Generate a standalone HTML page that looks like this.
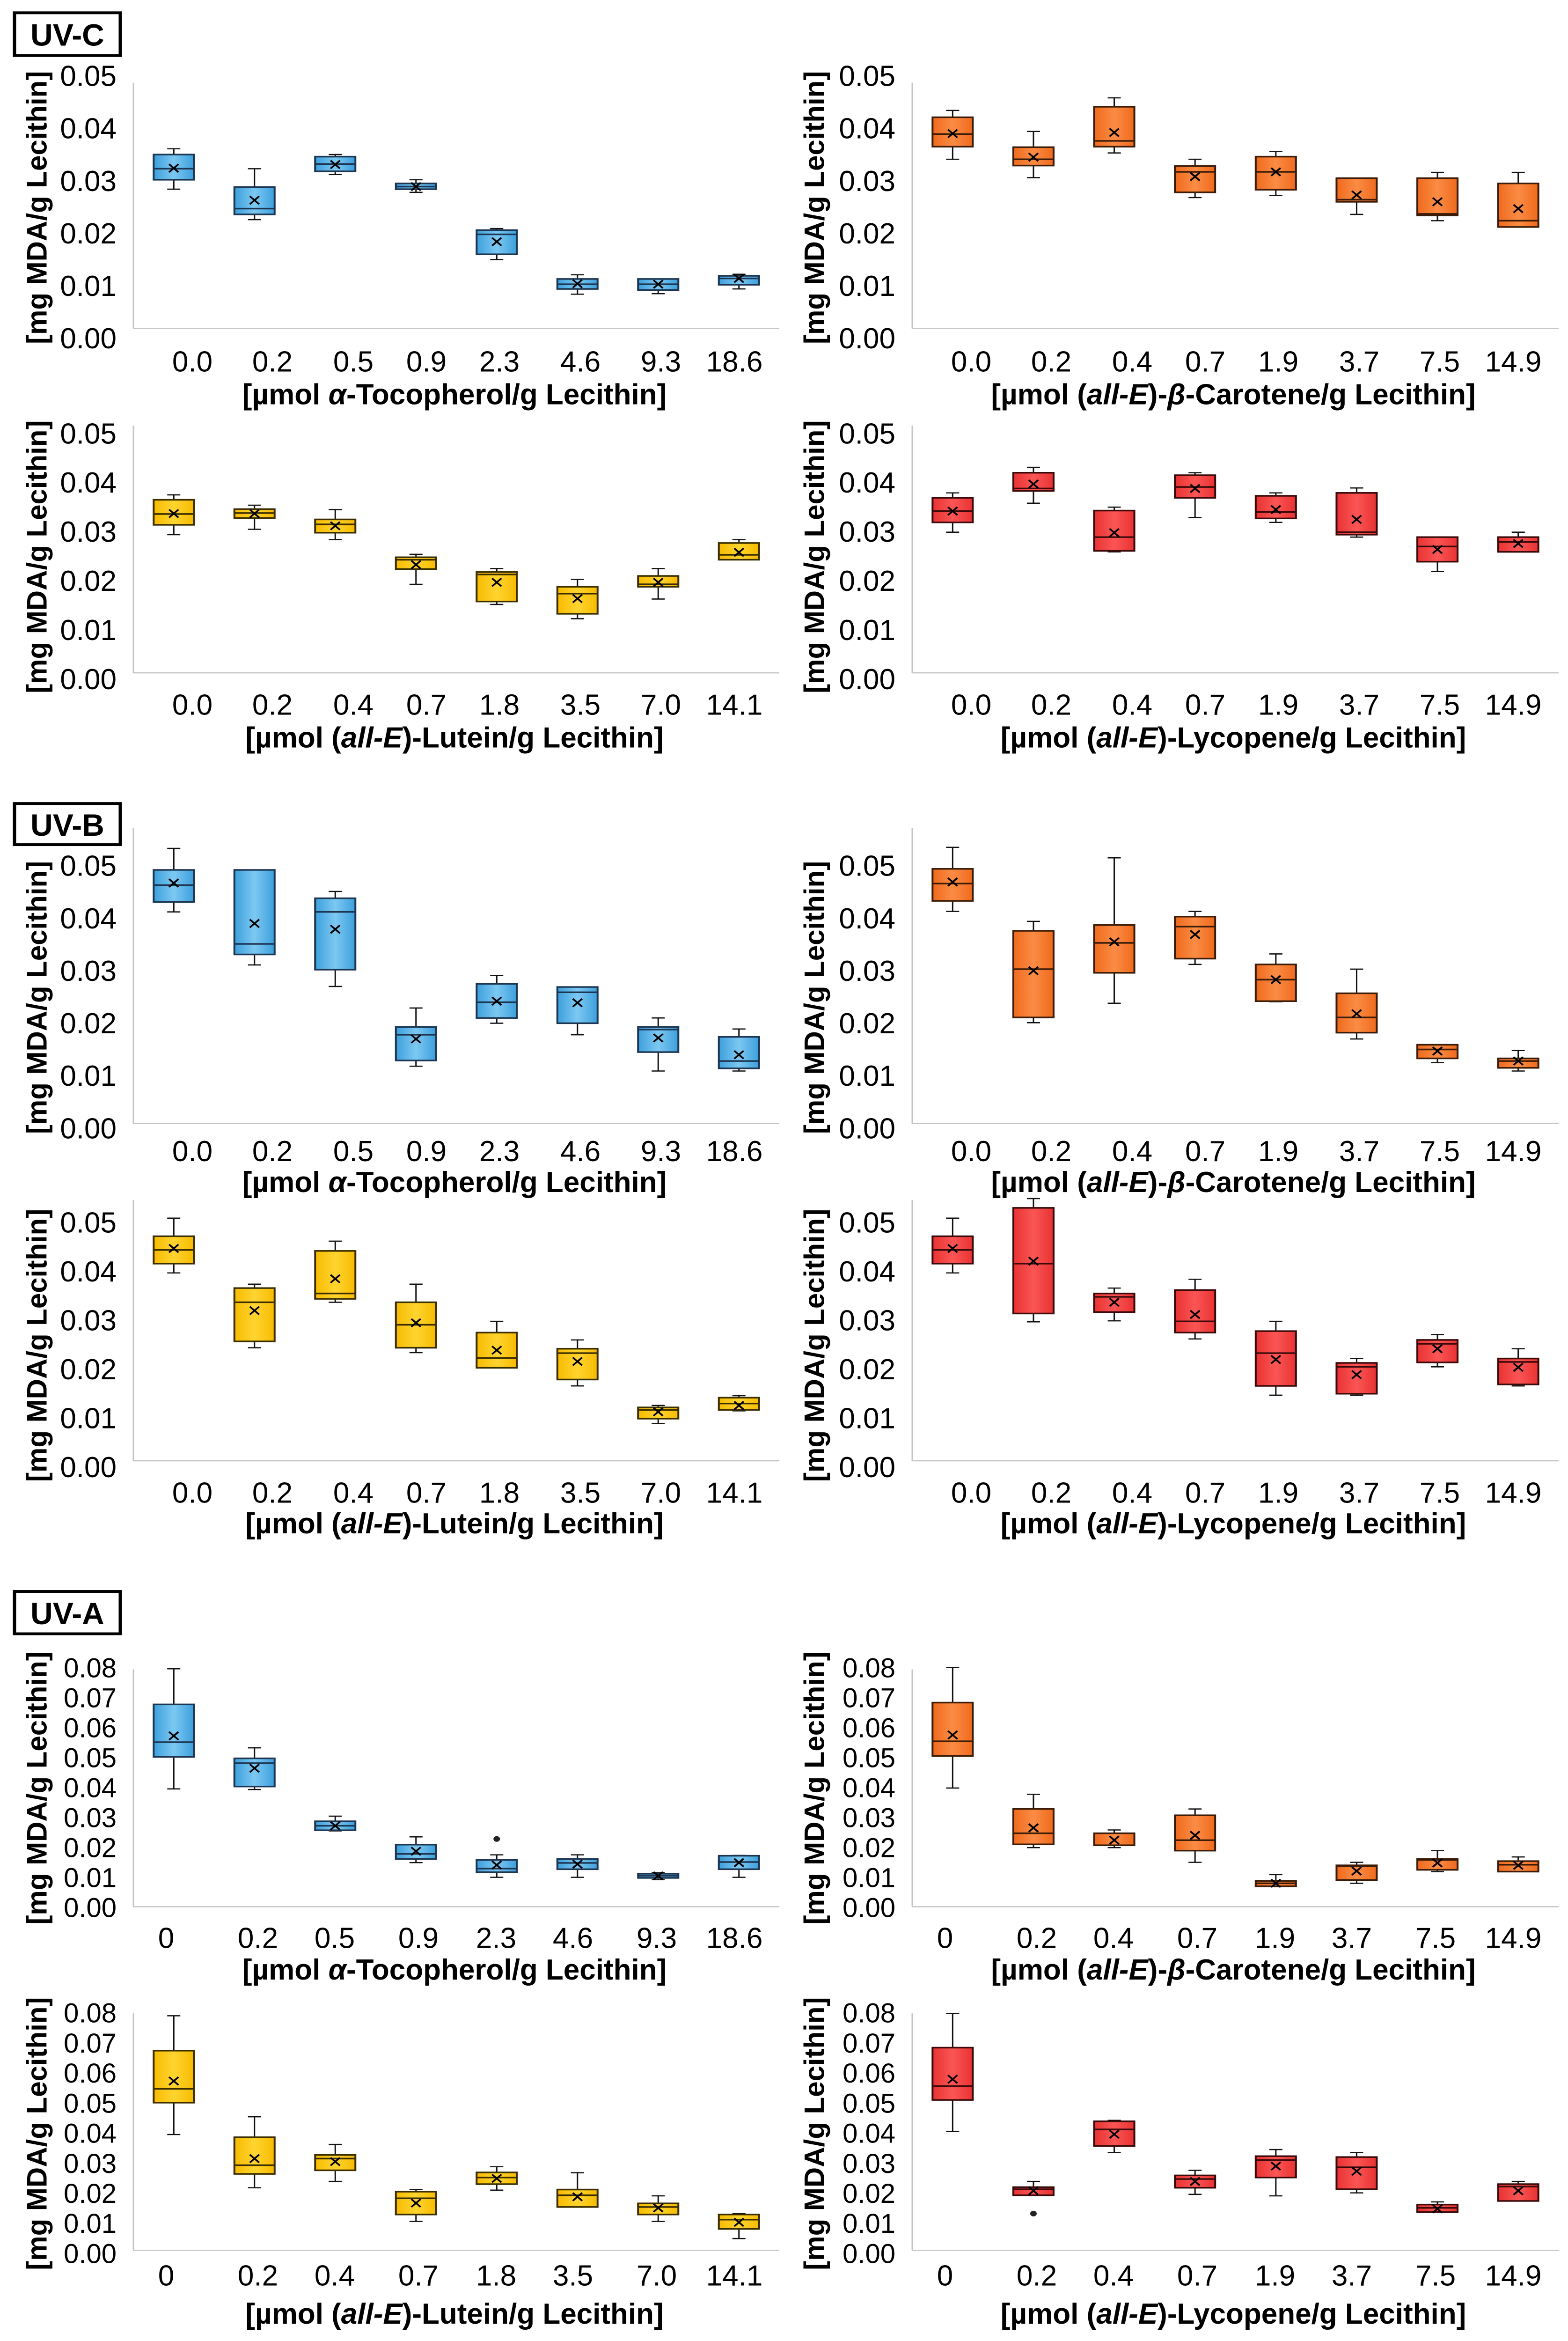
<!DOCTYPE html>
<html><head><meta charset="utf-8"><title>MDA box plots</title>
<style>
html,body{margin:0;padding:0;background:#fff;width:100vw;height:100vh;overflow:hidden;}
svg{display:block;position:absolute;left:0;top:0;width:100%;height:100%;font-family:"Liberation Sans",Arial,sans-serif;}
</style></head>
<body>
<svg id="fig" xmlns="http://www.w3.org/2000/svg" width="100%" height="100%" viewBox="0 0 3350 5859" preserveAspectRatio="none">
<defs>
<linearGradient id="g-blue" x1="0" x2="1" y1="0" y2="0"><stop offset="0" stop-color="#3d9fdc"/><stop offset="0.5" stop-color="#7cc8f2"/><stop offset="1" stop-color="#3d9fdc"/></linearGradient>
<linearGradient id="g-orange" x1="0" x2="1" y1="0" y2="0"><stop offset="0" stop-color="#ef6a1c"/><stop offset="0.5" stop-color="#fb8c45"/><stop offset="1" stop-color="#ef6a1c"/></linearGradient>
<linearGradient id="g-yellow" x1="0" x2="1" y1="0" y2="0"><stop offset="0" stop-color="#f7bb00"/><stop offset="0.5" stop-color="#ffd430"/><stop offset="1" stop-color="#f7bb00"/></linearGradient>
<linearGradient id="g-red" x1="0" x2="1" y1="0" y2="0"><stop offset="0" stop-color="#e83232"/><stop offset="0.5" stop-color="#fb5555"/><stop offset="1" stop-color="#e83232"/></linearGradient>
</defs>
</svg>
<script>
// ---------- DATA ----------
const catsToc=["0.0","0.2","0.5","0.9","2.3","4.6","9.3","18.6"];
const catsCar=["0.0","0.2","0.4","0.7","1.9","3.7","7.5","14.9"];
const catsLut=["0.0","0.2","0.4","0.7","1.8","3.5","7.0","14.1"];
const catsLyc=["0.0","0.2","0.4","0.7","1.9","3.7","7.5","14.9"];
const catsTocA=["0","0.2","0.5","0.9","2.3","4.6","9.3","18.6"];
const catsCarA=["0","0.2","0.4","0.7","1.9","3.7","7.5","14.9"];
const catsLutA=["0","0.2","0.4","0.7","1.8","3.5","7.0","14.1"];
const catsLycA=["0","0.2","0.4","0.7","1.9","3.7","7.5","14.9"];
const ticks05=[0,0.01,0.02,0.03,0.04,0.05];
const tickLabels05=["0.00","0.01","0.02","0.03","0.04","0.05"];
const ticks08=[0,0.01,0.02,0.03,0.04,0.05,0.06,0.07,0.08];
const tickLabels08=["0.00","0.01","0.02","0.03","0.04","0.05","0.06","0.07","0.08"];

// UV-C tocopherol
const p1Min=[.0285,.0227,.0313,.0279,.0151,.0085,.0086,.0095];
const p1Q1=[.0303,.0237,.0319,.0285,.0161,.0095,.0093,.0103];
const p1Med=[.0324,.0248,.0333,.029,.0199,.0104,.0104,.0115];
const p1Q3=[.0351,.0289,.0347,.0296,.0207,.0114,.0114,.012];
const p1Max=[.0362,.0324,.0351,.0303,.021,.0122,.0114,.0123];
const p1Mean=[.0325,.0264,.0332,.029,.0185,.0105,.0104,.0115];
// UV-C carotene
const p2Min=[.0342,.0307,.0354,.0269,.0273,.0237,.0225,.0213];
const p2Q1=[.0366,.033,.0366,.0279,.0284,.0261,.0235,.0213];
const p2Med=[.039,.0342,.0377,.0318,.0318,.0265,.0238,.0225];
const p2Q3=[.0422,.0365,.0442,.0329,.0347,.0306,.0306,.0296];
const p2Max=[.0435,.0395,.0459,.0342,.0357,.0306,.0317,.0317];
const p2Mean=[.0391,.0346,.0393,.0309,.0318,.0274,.0261,.0248];
// UV-C lutein
const p3Min=[.0295,.0306,.0285,.0194,.0153,.0124,.0164,.0244];
const p3Q1=[.0315,.0329,.0299,.0225,.0159,.0134,.0189,.0244];
const p3Med=[.0337,.0339,.0316,.0244,.0214,.0175,.0194,.0254];
const p3Q3=[.0366,.0347,.0326,.0249,.0219,.0189,.0211,.0278];
const p3Max=[.0376,.0355,.0346,.0255,.0226,.0204,.0226,.0285];
const p3Mean=[.0338,.0338,.0313,.0234,.0198,.0165,.0198,.0259];
// UV-C lycopene
const p4Min=[.03,.0359,.026,.033,.032,.029,.022,.026];
const p4Q1=[.032,.0384,.0262,.037,.0328,.0295,.024,.026];
const p4Med=[.0343,.0389,.029,.0392,.0341,.03,.0271,.028];
const p4Q3=[.037,.0421,.0344,.0416,.0374,.038,.029,.029];
const p4Max=[.038,.0432,.0351,.0421,.038,.039,.029,.03];
const p4Mean=[.0343,.0398,.0299,.0389,.0346,.0326,.0265,.0277];
// UV-B tocopherol
const p5Min=[.0413,.0312,.0271,.0119,.0201,.0179,.011,.011];
const p5Q1=[.0432,.0332,.0303,.013,.0211,.0201,.0146,.0115];
const p5Med=[.0464,.0352,.0413,.0179,.0241,.026,.0189,.0129];
const p5Q3=[.0493,.0493,.0439,.0194,.0276,.027,.0194,.0175];
const p5Max=[.0534,.0493,.0452,.023,.0292,.027,.0211,.019];
const p5Mean=[.0468,.0391,.038,.0171,.0243,.024,.0173,.0141];
// UV-B carotene
const p6Min=[.0414,.0202,.0239,.0313,.0242,.0171,.0126,.011];
const p6Q1=[.0434,.0212,.0297,.0324,.0243,.0183,.0134,.0116];
const p6Med=[.0467,.0304,.0354,.0385,.0284,.0212,.0151,.0129];
const p6Q3=[.0495,.0377,.0388,.0404,.0313,.0258,.016,.0134];
const p6Max=[.0536,.0395,.0516,.0414,.0333,.0304,.016,.0149];
const p6Mean=[.047,.0301,.0356,.037,.0284,.0219,.0148,.0129];
// UV-B lutein
const p7Min=[.0398,.0245,.0338,.0235,.0204,.0167,.009,.0116];
const p7Q1=[.0417,.0258,.0345,.0245,.0204,.018,.01,.0118];
const p7Med=[.0445,.0338,.0356,.0292,.0224,.0234,.0118,.0131];
const p7Q3=[.0473,.0367,.0443,.0338,.0276,.0243,.0123,.0143];
const p7Max=[.051,.0375,.0463,.0375,.0299,.0261,.0127,.0147];
const p7Mean=[.0448,.0321,.0386,.0296,.024,.0217,.0114,.0127];
// UV-B lycopene
const p8Min=[.0398,.0298,.03,.0263,.0148,.0148,.0206,.0167];
const p8Q1=[.0417,.0315,.0318,.0276,.0167,.0151,.0215,.017];
const p8Med=[.0445,.0417,.0349,.0299,.0234,.0206,.0253,.0216];
const p8Q3=[.0473,.0531,.0356,.0363,.0279,.0214,.0261,.0223];
const p8Max=[.051,.055,.0367,.0385,.0299,.0223,.0272,.0243];
const p8Mean=[.0448,.0422,.0338,.0313,.0221,.019,.0243,.0205];
// UV-A tocopherol
const p9Min=[.0397,.0395,.0257,.0151,.0102,.0102,.0094,.0102];
const p9Q1=[.0504,.0405,.0259,.0163,.0119,.0129,.01,.0129];
const p9Med=[.0553,.0483,.0274,.018,.0131,.015,.0107,.0153];
const p9Q3=[.0679,.0499,.0289,.0211,.016,.0163,.0114,.0174];
const p9Max=[.0798,.0534,.0306,.0237,.0177,.0177,.0117,.0175];
const p9Mean=[.0574,.0466,.0274,.0189,.0143,.0146,.0107,.0151];
const p9Out=[null,null,null,null,.023,null,null,null];
// UV-A carotene
const p10Min=[.04,.0201,.0201,.0152,.0071,.0082,.0121,.0121];
const p10Q1=[.0507,.0212,.0209,.0191,.0072,.0093,.0127,.0121];
const p10Med=[.0556,.0249,.0209,.0226,.0082,.0139,.016,.0144];
const p10Q3=[.0685,.033,.0249,.0309,.009,.0142,.0163,.0156];
const p10Max=[.0802,.0379,.026,.033,.0111,.0152,.0191,.017];
const p10Mean=[.0577,.0267,.0226,.0242,.0082,.0123,.015,.0142];
// UV-A lutein
const p11Min=[.0397,.022,.0241,.0108,.0212,.0156,.0108,.0051];
const p11Q1=[.0503,.0266,.0278,.0131,.0232,.0156,.0131,.0083];
const p11Med=[.0549,.0295,.0317,.0185,.0254,.0195,.0156,.0114];
const p11Q3=[.0676,.0388,.0329,.0207,.0271,.0214,.0168,.0131];
const p11Max=[.0792,.0456,.0364,.0214,.029,.027,.0193,.0134];
const p11Mean=[.0575,.0317,.0307,.0169,.0251,.019,.0153,.0105];
// UV-A lycopene
const p12Min=[.0407,.0195,.0337,.0198,.0193,.0203,.0139,.0176];
const p12Q1=[.0512,.0195,.0359,.022,.0254,.0215,.0139,.0176];
const p12Med=[.0558,.0215,.0414,.0249,.0312,.0288,.0153,.0224];
const p12Q3=[.0686,.0222,.0441,.0261,.0325,.0322,.0164,.0232];
const p12Max=[.08,.0241,.0444,.0278,.0347,.0337,.0173,.0241];
const p12Mean=[.0581,.021,.0398,.0241,.0292,.0275,.015,.021];
const p12Out=[null,.0134,null,null,null,null,null,null];

// ---------- LAYOUT ----------
const NS="http://www.w3.org/2000/svg";
const svg=document.getElementById('fig');
function mk(tag,attrs,parent){const e=document.createElementNS(NS,tag);for(const k in attrs)e.setAttribute(k,attrs[k]);(parent||svg).appendChild(e);return e;}

const rows=[
 {yZero:848,yTop:191,line:822,axTop:207,catY:906,titleY:987},
 {yZero:1701,yTop:1086,line:1684,axTop:1065,catY:1765,titleY:1846},
 {yZero:2825,yTop:2168,line:2812,axTop:2072,catY:2882,titleY:2959},
 {yZero:3673,yTop:3061,line:3656,axTop:3003,catY:3737,titleY:3813},
 {yZero:4775,yTop:4175,line:4772,axTop:4178,catY:4851,titleY:4930},
 {yZero:5641,yTop:5039,line:5632,axTop:5039,catY:5696,titleY:5791}
];
const cols=[{axis:285,right:1665,tickX:249,ytX:79},{axis:1949,right:3330,tickX:1913,ytX:1740}];
const labOffBC=[126,297,470,626,782,955,1127,1284];
const labOffA=[70,266,430,609,775,939,1118,1284];

const titles={
 toc:[["[µmol ",""],["α","i"],["-Tocopherol/g Lecithin]",""]],
 car:[["[µmol (",""],["all-E","i"],[")-",""],["β","i"],["-Carotene/g Lecithin]",""]],
 lut:[["[µmol (",""],["all-E","i"],[")-Lutein/g Lecithin]",""]],
 lyc:[["[µmol (",""],["all-E","i"],[")-Lycopene/g Lecithin]",""]]
};
const colors={blue:{g:"url(#g-blue)",s:"#1d3550"},orange:{g:"url(#g-orange)",s:"#3a1c08"},yellow:{g:"url(#g-yellow)",s:"#3a2e00"},red:{g:"url(#g-red)",s:"#3a0a0a"}};

const panels=[
 {id:"uvc-tocopherol",row:0,col:0,cats:catsToc,mn:p1Min,q1:p1Q1,md:p1Med,q3:p1Q3,mx:p1Max,mean:p1Mean,c:"blue",t:"toc"},
 {id:"uvc-carotene",row:0,col:1,cats:catsCar,mn:p2Min,q1:p2Q1,md:p2Med,q3:p2Q3,mx:p2Max,mean:p2Mean,c:"orange",t:"car"},
 {id:"uvc-lutein",row:1,col:0,cats:catsLut,mn:p3Min,q1:p3Q1,md:p3Med,q3:p3Q3,mx:p3Max,mean:p3Mean,c:"yellow",t:"lut"},
 {id:"uvc-lycopene",row:1,col:1,cats:catsLyc,mn:p4Min,q1:p4Q1,md:p4Med,q3:p4Q3,mx:p4Max,mean:p4Mean,c:"red",t:"lyc"},
 {id:"uvb-tocopherol",row:2,col:0,cats:catsToc,mn:p5Min,q1:p5Q1,md:p5Med,q3:p5Q3,mx:p5Max,mean:p5Mean,c:"blue",t:"toc"},
 {id:"uvb-carotene",row:2,col:1,cats:catsCar,mn:p6Min,q1:p6Q1,md:p6Med,q3:p6Q3,mx:p6Max,mean:p6Mean,c:"orange",t:"car"},
 {id:"uvb-lutein",row:3,col:0,cats:catsLut,mn:p7Min,q1:p7Q1,md:p7Med,q3:p7Q3,mx:p7Max,mean:p7Mean,c:"yellow",t:"lut"},
 {id:"uvb-lycopene",row:3,col:1,cats:catsLyc,mn:p8Min,q1:p8Q1,md:p8Med,q3:p8Q3,mx:p8Max,mean:p8Mean,c:"red",t:"lyc"},
 {id:"uva-tocopherol",row:4,col:0,cats:catsTocA,mn:p9Min,q1:p9Q1,md:p9Med,q3:p9Q3,mx:p9Max,mean:p9Mean,out:p9Out,c:"blue",t:"toc"},
 {id:"uva-carotene",row:4,col:1,cats:catsCarA,mn:p10Min,q1:p10Q1,md:p10Med,q3:p10Q3,mx:p10Max,mean:p10Mean,c:"orange",t:"car"},
 {id:"uva-lutein",row:5,col:0,cats:catsLutA,mn:p11Min,q1:p11Q1,md:p11Med,q3:p11Q3,mx:p11Max,mean:p11Mean,c:"yellow",t:"lut"},
 {id:"uva-lycopene",row:5,col:1,cats:catsLycA,mn:p12Min,q1:p12Q1,md:p12Med,q3:p12Q3,mx:p12Max,mean:p12Mean,out:p12Out,c:"red",t:"lyc"}
];

const allTexts=[];
const sections=[["UV-C",29,142],["UV-B",2008,2117],["UV-A",3980,4092]];
sections.forEach(s=>{
  const g=mk('g',{});
  
  
  mk('rect',{x:31,y:s[1]+3,width:226,height:s[2]-s[1]-6,fill:"#fff",stroke:"#000","stroke-width":7},g);
  const t=mk('text',{x:144,y:(s[1]+s[2])/2+2,"text-anchor":"middle","dominant-baseline":"central","font-size":66,"font-weight":"bold",fill:"#000"},g);
  t.textContent=s[0];
  allTexts.push([t,144,(s[1]+s[2])/2+2,""]);
});

panels.forEach(p=>{
  const R=rows[p.row],C=cols[p.col];
  const uvA=p.row>=4;
  const tks=uvA?ticks08:ticks05, tls=uvA?tickLabels08:tickLabels05;
  const vmax=tks[tks.length-1];
  const y=v=>R.yZero-v/vmax*(R.yZero-R.yTop);
  const slot=(C.right-C.axis)/8;
  const x=i=>C.axis+slot*(i+0.5);
  const col=colors[p.c];
  const g=mk('g',{});
  
  
  const ax=mk('line',{x1:C.axis,y1:R.axTop,x2:C.axis,y2:R.line,stroke:"#c4c4c4","stroke-width":3},g);
  
  
  const bx=mk('line',{x1:C.axis,y1:R.line,x2:C.right,y2:R.line,stroke:"#c4c4c4","stroke-width":3},g);
  
  
  tks.forEach((v,i)=>{
    const t=mk('text',{x:C.tickX,y:y(v),"text-anchor":"end","dominant-baseline":"central","font-size":uvA?58:62,fill:"#000"},g);
    t.textContent=tls[i];
    
    
    allTexts.push([t,C.tickX,y(v),""]);
  });
  const ym=(R.yZero+R.yTop)/2;
  const yt=mk('text',{x:C.ytX,y:ym,"text-anchor":"middle","dominant-baseline":"central","font-size":60,"font-weight":"bold",fill:"#000",transform:`rotate(-90 ${C.ytX} ${ym})`},g);
  yt.textContent="[mg MDA/g Lecithin]";
  
  
  allTexts.push([yt,C.ytX,ym,`rotate(-90 ${C.ytX} ${ym})`]);
  const offs=uvA?labOffA:labOffBC;
  p.cats.forEach((c,i)=>{
    const t=mk('text',{x:C.axis+offs[i],y:R.catY,"text-anchor":"middle","dominant-baseline":"central","font-size":62,fill:"#000"},g);
    t.textContent=c;
    
    
    allTexts.push([t,C.axis+offs[i],R.catY,""]);
  });
  const xt=mk('text',{x:C.axis+686,y:R.titleY,"text-anchor":"middle","dominant-baseline":"central","font-size":62,"font-weight":"bold",fill:"#000"},g);
  
  
  allTexts.push([xt,C.axis+686,R.titleY,""]);
  titles[p.t].forEach(part=>{
    const ts=mk('tspan',{},xt);
    if(part[1]==="i")ts.setAttribute('font-style','italic');
    ts.textContent=part[0];
  });
  p.cats.forEach((c,i)=>{
    const bg=mk('g',{},g);
    
    
    const cx=x(i),hw=43,cw=14;
    mk('line',{x1:cx,y1:y(p.mx[i]),x2:cx,y2:y(p.q3[i]),stroke:"#111","stroke-width":3},bg);
    mk('line',{x1:cx,y1:y(p.q1[i]),x2:cx,y2:y(p.mn[i]),stroke:"#111","stroke-width":3},bg);
    mk('line',{x1:cx-cw,y1:y(p.mx[i]),x2:cx+cw,y2:y(p.mx[i]),stroke:"#111","stroke-width":3},bg);
    mk('line',{x1:cx-cw,y1:y(p.mn[i]),x2:cx+cw,y2:y(p.mn[i]),stroke:"#111","stroke-width":3},bg);
    const top=y(p.q3[i]),bot=y(p.q1[i]);
    mk('rect',{x:cx-hw,y:top,width:2*hw,height:Math.max(bot-top,2),fill:col.g,stroke:col.s,"stroke-width":4},bg);
    mk('line',{x1:cx-hw,y1:y(p.md[i]),x2:cx+hw,y2:y(p.md[i]),stroke:col.s,"stroke-width":4},bg);
    const my=y(p.mean[i]),s=10;
    mk('path',{d:`M${cx-s},${my-s}L${cx+s},${my+s}M${cx-s},${my+s}L${cx+s},${my-s}`,stroke:"#000","stroke-width":4,fill:"none"},bg);
    if(p.out&&p.out[i]!=null){
      const o=mk('circle',{cx:cx,cy:y(p.out[i]),r:7,fill:"#222"},bg);
      
      
    }
  });
});

// compensate text distortion if the viewport aspect differs from 3350x5859
(function(){
  const r=svg.getBoundingClientRect();
  if(!r.width||!r.height)return;
  const sx=r.width/3350, sy=r.height/5859;
  const k=sy/sx; // vertical squash relative to horizontal
  if(Math.abs(k-1)<0.005)return;
  allTexts.forEach(a=>{
    const [t,x,y,rot]=a;
    t.setAttribute('transform',`translate(${x} ${y}) scale(1 ${1/k}) translate(${-x} ${-y}) ${rot}`);
  });
})();
</script>
</body></html>
